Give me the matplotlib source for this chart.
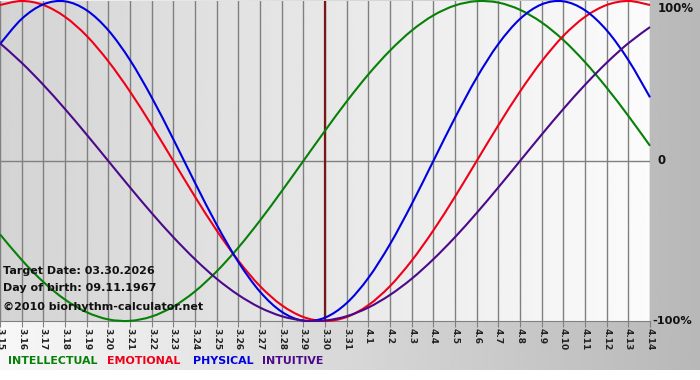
import numpy as np
import matplotlib
matplotlib.use("Agg")
from matplotlib import pyplot as plt
from matplotlib.path import Path
from matplotlib.patches import PathPatch

# days shown on the x axis
days = ['3.15', '3.16', '3.17', '3.18', '3.19', '3.20', '3.21', '3.22', '3.23', '3.24',
        '3.25', '3.26', '3.27', '3.28', '3.29', '3.30', '3.31', '4.1', '4.2', '4.3',
        '4.4', '4.5', '4.6', '4.7', '4.8', '4.9', '4.10', '4.11', '4.12', '4.13', '4.14']
target_day = '3.30'

# daily values (-1 .. 1)
intellectual = [-0.458, -0.618, -0.756, -0.866, -0.945, -0.990, -0.999, -0.972, -0.910, -0.815,
                -0.690, -0.541, -0.372, -0.189, 0.0, 0.189, 0.372, 0.541, 0.690, 0.815,
                0.910, 0.972, 0.999, 0.990, 0.945, 0.866, 0.756, 0.618, 0.458, 0.282, 0.095]
emotional = [0.975, 1.0, 0.975, 0.901, 0.782, 0.623, 0.434, 0.223, 0.0, -0.223,
             -0.434, -0.623, -0.782, -0.901, -0.975, -1.0, -0.975, -0.901, -0.782, -0.623,
             -0.434, -0.223, 0.0, 0.223, 0.434, 0.623, 0.782, 0.901, 0.975, 1.0, 0.975]
physical = [0.731, 0.888, 0.979, 0.998, 0.942, 0.817, 0.631, 0.398, 0.136, -0.136,
            -0.398, -0.631, -0.817, -0.942, -0.998, -0.979, -0.888, -0.731, -0.520, -0.270,
            0.0, 0.270, 0.520, 0.731, 0.888, 0.979, 0.998, 0.942, 0.817, 0.631, 0.398]
intuitive = [0.736, 0.614, 0.476, 0.325, 0.165, 0.0, -0.165, -0.325, -0.476, -0.614,
             -0.736, -0.837, -0.916, -0.970, -0.997, -0.997, -0.970, -0.916, -0.837, -0.736,
             -0.614, -0.476, -0.325, -0.165, 0.0, 0.165, 0.325, 0.476, 0.614, 0.736, 0.837]

series = [('INTELLECTUAL', intellectual, '#078007'),
          ('EMOTIONAL', emotional, '#f00018'),
          ('PHYSICAL', physical, '#0000e0'),
          ('INTUITIVE', intuitive, '#4a0a8a')]

info = ['Target Date: 03.30.2026', 'Day of birth: 09.11.1967', '\u00a92010 biorhythm-calculator.net']


def smooth_path(xs, ys):
    # smooth curve through the daily points (catmull-rom as cubic bezier)
    pts = np.column_stack([xs, ys]).astype(float)
    n = len(pts)
    verts = [pts[0]]
    codes = [Path.MOVETO]
    for i in range(n - 1):
        p0 = pts[max(i - 1, 0)]
        p1 = pts[i]
        p2 = pts[i + 1]
        p3 = pts[min(i + 2, n - 1)]
        verts += [p1 + (p2 - p0) / 6, p2 - (p3 - p1) / 6, p2]
        codes += [Path.CURVE4] * 3
    return Path(verts, codes)


W, H = 700, 380
fig = plt.figure(figsize=(W / 100, H / 100), dpi=100)

# figure background: light on the left, grey on the right, white strip at the bottom
bg = fig.add_axes([0, 0, 1, 1], zorder=-10)
bg.set_axis_off()
img = np.tile(np.linspace(0.97, 0.72, 256), (2, 1))
bg.imshow(img, cmap='gray', vmin=0, vmax=1, aspect='auto', extent=[0, 1, 10 / H, 1])
bg.set_xlim(0, 1)
bg.set_ylim(0, 1)

x = np.arange(len(days))
ax = fig.add_axes([0, 1 - 321 / H, 650 / W, 320 / H])
ax.set_xlim(0, len(days) - 1)
ax.set_ylim(-1, 1)

# plot area gradient
pg = np.tile(np.linspace(0.83, 0.985, 256), (2, 1))
ax.imshow(pg, cmap='gray', vmin=0, vmax=1, aspect='auto',
          extent=[0, len(days) - 1, -1, 1], zorder=0)

for xi in x:
    ax.axvline(xi, color='#808080', lw=1, zorder=1)
ax.axhline(0, color='#808080', lw=1, zorder=1)
ax.axvline(days.index(target_day), color='#7a1616', lw=1.6, zorder=3)

for name, vals, col in series:
    ax.add_patch(PathPatch(smooth_path(x, vals), facecolor='none', edgecolor=col,
                           lw=1.5, zorder=4, clip_on=False))

for s in ax.spines.values():
    s.set_visible(False)
ax.spines['bottom'].set_visible(True)
ax.spines['bottom'].set_color('#808080')
ax.set_xticks(x)
ax.set_xticklabels(days, rotation=270, fontsize=6.5, fontweight='bold', color='#222222')
ax.tick_params(axis='x', length=4, color='#808080', pad=1)
ax.set_yticks([])

# right hand percent labels
ax.text(1.012, 0.975, '100%', transform=ax.transAxes, ha='left', va='center',
        fontsize=8.5, fontweight='bold', color='#111111')
ax.text(1.012, 0.5, '0', transform=ax.transAxes, ha='left', va='center',
        fontsize=8.5, fontweight='bold', color='#111111')
ax.text(1.004, 0.0, '-100%', transform=ax.transAxes, ha='left', va='center',
        fontsize=8.2, fontweight='bold', color='#111111')

for i, t in enumerate(info):
    fig.text(3 / W, 1 - (271 + i * 17 + (2 if i == 2 else 0)) / H, t, ha='left', va='center',
             fontsize=8, fontweight='bold', color='#111111', zorder=5)

leg_x = [8, 107, 193, 262]
for (name, vals, col), lx in zip(series, leg_x):
    fig.text(lx / W, 1 - 361 / H, name, ha='left', va='center', fontsize=7.9,
             fontweight='bold', color=col)

fig.savefig('out.png', dpi=100)
